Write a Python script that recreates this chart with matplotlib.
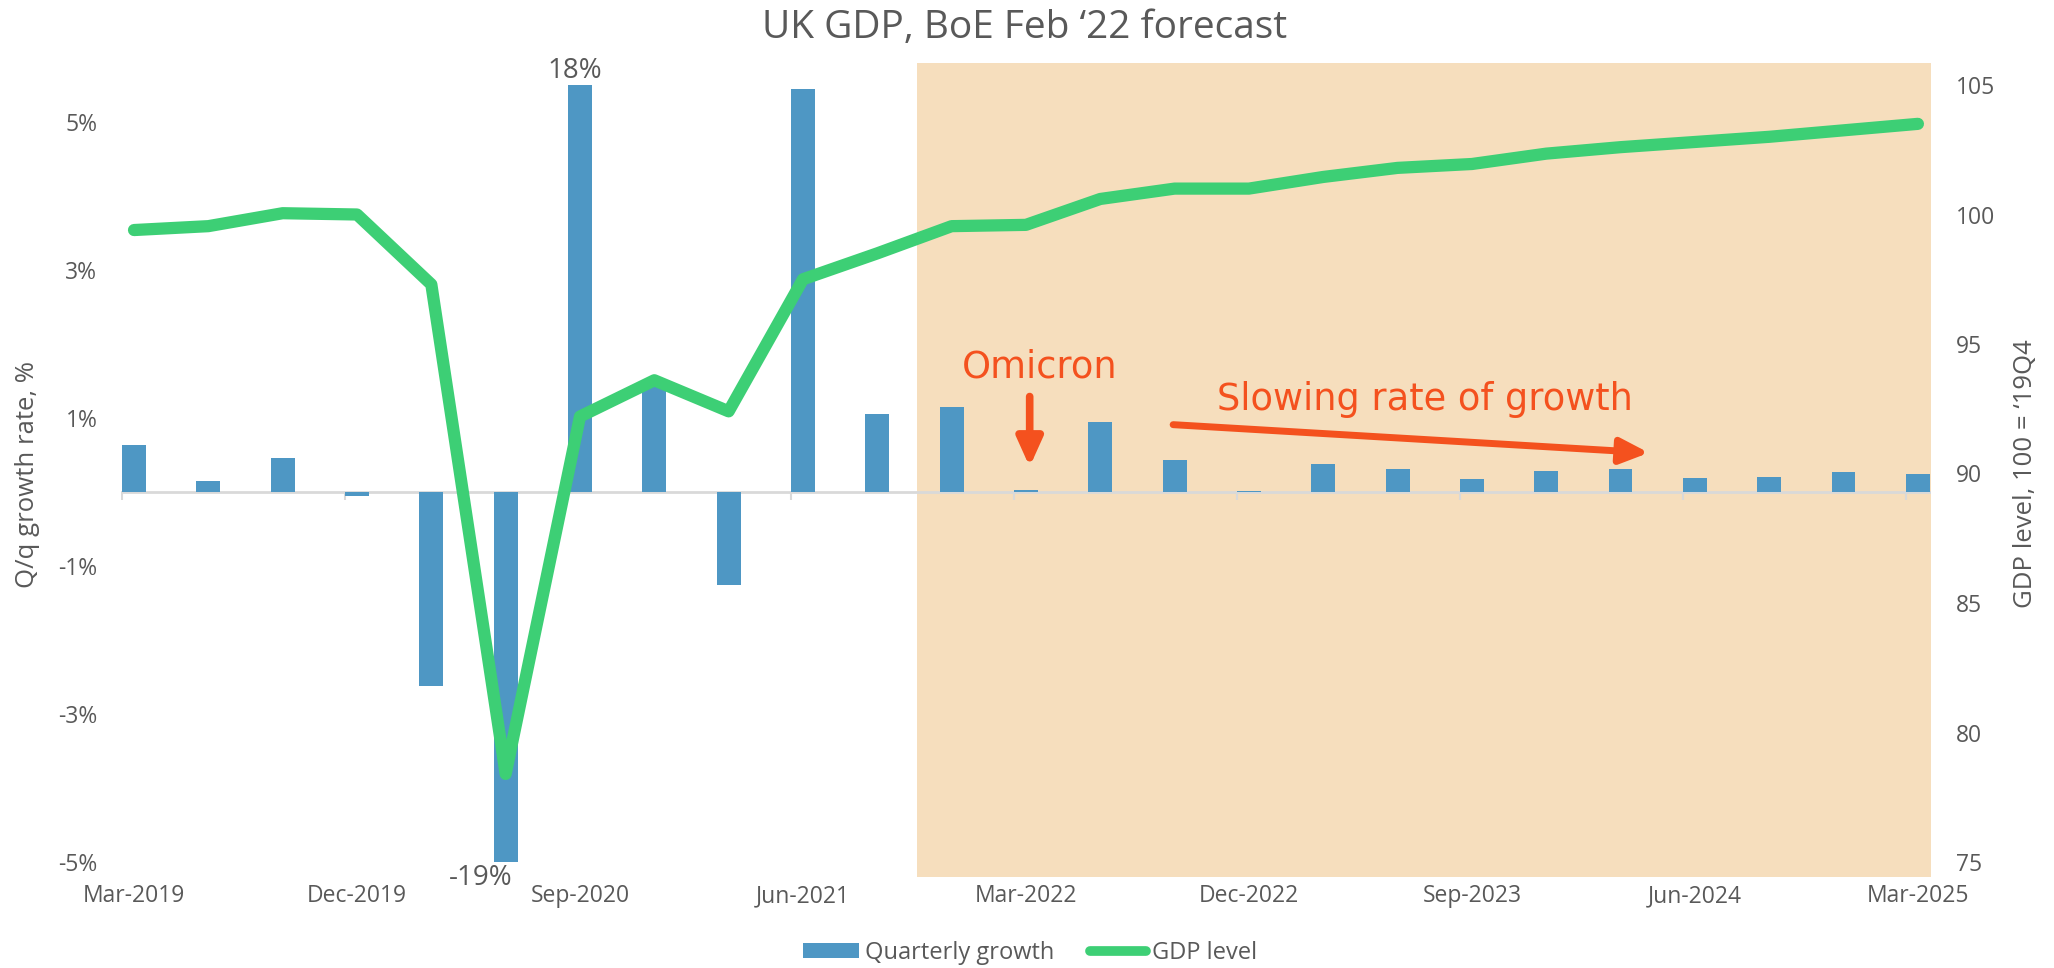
import matplotlib
matplotlib.use("Agg")
import matplotlib.pyplot as plt
import matplotlib.transforms as mtransforms
from matplotlib.patches import Rectangle, Patch
from matplotlib.lines import Line2D

# ---------------- data ----------------
quarters = ["Mar-2019", "Jun-2019", "Sep-2019", "Dec-2019",
            "Mar-2020", "Jun-2020", "Sep-2020", "Dec-2020",
            "Mar-2021", "Jun-2021", "Sep-2021", "Dec-2021",
            "Mar-2022", "Jun-2022", "Sep-2022", "Dec-2022",
            "Mar-2023", "Jun-2023", "Sep-2023", "Dec-2023",
            "Mar-2024", "Jun-2024", "Sep-2024", "Dec-2024",
            "Mar-2025"]
quarterly_growth = [0.64, 0.15, 0.46, -0.05,
                    -2.62, -19.0, 18.0, 1.42,
                    -1.26, 5.45, 1.06, 1.15,
                    0.03, 0.95, 0.43, 0.02,
                    0.38, 0.31, 0.17, 0.29,
                    0.31, 0.19, 0.20, 0.27,
                    0.25]
gdp_level = [99.4, 99.55, 100.05, 100.0,
             97.3, 78.4, 92.2, 93.6,
             92.4, 97.5, 98.5, 99.55,
             99.6, 100.6, 101.0, 101.0,
             101.45, 101.8, 101.95, 102.35,
             102.6, 102.8, 103.0, 103.25,
             103.5]
left_ticks = [-5, -3, -1, 1, 3, 5]
right_ticks = [75, 80, 85, 90, 95, 100, 105]
label_every = 3
forecast_start = 10.54   # shading begins between Sep-2021 and Dec-2021

# ---------------- style ----------------
BLUE = "#4E97C4"
GREEN = "#3DCF75"
SHADE = "#F6DEBD"
ORANGE = "#F4511E"
GRAY = "#595959"
AXIS = "#D9D9D9"
FONT = ["Open Sans", "DejaVu Sans"]

W, H = 2054, 968
fig = plt.figure(figsize=(W / 100, H / 100), dpi=100)
ax = fig.add_axes([121 / W, (H - 862) / H, (1931 - 121) / W, (862 - 85) / H])
ax2 = ax.twinx()
ax.set_zorder(1)
ax2.set_zorder(2)
ax.patch.set_visible(False)
ax2.patch.set_visible(False)

x = list(range(len(quarters)))
xmin, xmax = -0.175, 24.176

# forecast shading (extends slightly beyond plot area, as in the original)
btr = mtransforms.blended_transform_factory(ax.transData, fig.transFigure)
shade = Rectangle((forecast_start, (H - 877) / H), xmax - forecast_start, (877 - 63) / H,
                  transform=btr, facecolor=SHADE, edgecolor="none", zorder=0, clip_on=False)
ax.add_patch(shade)

# bars
ax.bar(x, quarterly_growth, width=0.32, color=BLUE, zorder=3)
ax.set_xlim(xmin, xmax)
ax.set_ylim(-5, 5.5)

# zero axis line and small tick marks
ax.axhline(0, color=AXIS, lw=2, zorder=2)
tick_marks = [k - 0.16 for k in range(0, len(quarters), label_every)]
ax.vlines(tick_marks, -0.11, 0, color=AXIS, lw=1.5, zorder=2)

# GDP line
ax2.plot(x, gdp_level, color=GREEN, lw=8.8, solid_capstyle="round",
         solid_joinstyle="round", zorder=4)
ax2.set_ylim(75, 105)
ax2.set_xlim(xmin, xmax)

# spines off
for a in (ax, ax2):
    for s in a.spines.values():
        s.set_visible(False)

# ticks
lab_pos = list(range(0, len(quarters), label_every))
ax.set_xticks(lab_pos)
ax.set_xticklabels([quarters[i] for i in lab_pos], fontsize=16.5, color=GRAY, family=FONT)
ax.tick_params(axis="x", length=0, pad=16)
ax.set_yticks(left_ticks)
ax.set_yticklabels([f"{t}%" for t in left_ticks], fontsize=16.5, color=GRAY, family=FONT)
ax.tick_params(axis="y", length=0, pad=17)
ax2.set_yticks(right_ticks)
ax2.set_yticklabels([str(t) for t in right_ticks], fontsize=16.5, color=GRAY, family=FONT)
ax2.tick_params(axis="y", length=0, pad=18)

# axis titles
fig.text(28 / W, 1 - 474 / H, "Q/q growth rate, %", rotation=90, ha="center", va="center",
         fontsize=18.5, color=GRAY, family=FONT)
fig.text(2025 / W, 1 - 474 / H, "GDP level, 100 = \u201819Q4", rotation=90, ha="center",
         va="center", fontsize=18.5, color=GRAY, family=FONT)

# title
fig.text(1025 / W, 1 - 28 / H, "UK GDP, BoE Feb \u201822 forecast", ha="center", va="center",
         fontsize=28, color=GRAY, family=FONT)

# clipped bar value labels
i_max = quarterly_growth.index(max(quarterly_growth))
i_min = quarterly_growth.index(min(quarterly_growth))
ax.annotate(f"{quarterly_growth[i_max]:.0f}%", xy=(i_max - 0.07, 1.0),
            xycoords=("data", "axes fraction"), xytext=(0, 10), textcoords="offset points",
            ha="center", va="center", fontsize=20, color=GRAY, family=FONT, annotation_clip=False)
ax.annotate(f"{quarterly_growth[i_min]:.0f}%", xy=(i_min - 0.33, 0.0),
            xycoords=("data", "axes fraction"), xytext=(0, -11.5), textcoords="offset points",
            ha="center", va="center", fontsize=20, color=GRAY, family=FONT, annotation_clip=False)

# annotations
ax.text(12.18, 1.55, "Omicron", ha="center", va="baseline", fontsize=26.5, color=ORANGE,
        family=["DejaVu Sans"], zorder=6)
ax.annotate("", xy=(12.05, 0.34), xytext=(12.05, 1.29),
            arrowprops=dict(arrowstyle="-|>,head_length=1.0,head_width=0.45", lw=5.5,
                            color=ORANGE, shrinkA=0, shrinkB=0, mutation_scale=17),
            zorder=6)
ax.text(17.37, 1.11, "Slowing rate of growth", ha="center", va="baseline", fontsize=26.5,
        color=ORANGE, family=["DejaVu Sans"], zorder=6)
ax.annotate("", xy=(20.38, 0.53), xytext=(13.98, 0.91),
            arrowprops=dict(arrowstyle="-|>,head_length=1.0,head_width=0.45", lw=5,
                            color=ORANGE, shrinkA=0, shrinkB=0, mutation_scale=17),
            zorder=6)

# legend
handles = [Patch(facecolor=BLUE, edgecolor="none", label="Quarterly growth"),
           Line2D([0], [0], color=GREEN, lw=7, solid_capstyle="round", label="GDP level")]
fig.legend(handles=handles, loc="center", bbox_to_anchor=(1030 / W, 1 - 953 / H), ncol=2,
           frameon=False, prop={"family": FONT, "size": 17}, labelcolor=GRAY,
           handlelength=2.4, handleheight=0.6, handletextpad=0.25, columnspacing=1.5)

fig.savefig("out.png", dpi=100)
